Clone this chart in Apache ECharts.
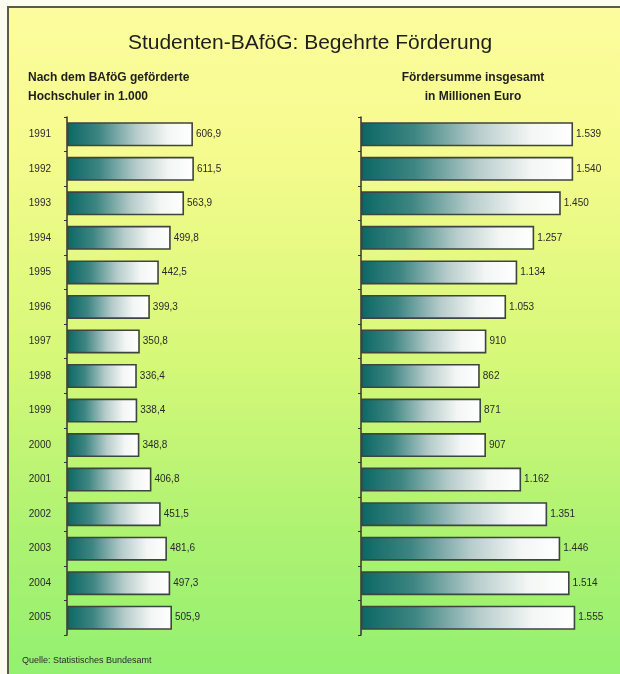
<!DOCTYPE html>
<html><head><meta charset="utf-8">
<script src="https://cdn.jsdelivr.net/npm/echarts@6/dist/echarts.min.js"></script>
<style>html,body{margin:0;padding:0;background:#fbfbf0;}#c{width:620px;height:674px;}</style>
</head><body><div id="c"></div>
<script>
const years = ['1991','1992','1993','1994','1995','1996','1997','1998','1999','2000','2001','2002','2003','2004','2005'];
const students = [606.9, 611.5, 563.9, 499.8, 442.5, 399.3, 350.8, 336.4, 338.4, 348.8, 406.8, 451.5, 481.6, 497.3, 505.9];
const funding = [1539, 1540, 1450, 1257, 1134, 1053, 910, 862, 871, 907, 1162, 1351, 1446, 1514, 1555];

const FONT = '"Liberation Sans", Arial, sans-serif';
const barFill = {
  type: 'linear', x: 0, y: 0, x2: 1, y2: 0,
  colorStops: [
    {offset: 0, color: '#0b6764'},
    {offset: 0.25, color: '#3d8582'},
    {offset: 0.55, color: '#b6cccb'},
    {offset: 0.8, color: '#f3f6f4'},
    {offset: 1, color: '#ffffff'}
  ]
};
function de1(v){ return v.toFixed(1).replace('.', ','); }
function deThousand(v){ return String(v).replace(/\B(?=(\d{3})+(?!\d))/g, '.'); }

const chart = echarts.init(document.getElementById('c'), null, {renderer: 'canvas'});
const catAxis = (gi, showLabel) => ({
  type: 'category', gridIndex: gi, data: years, inverse: true,
  axisLine: {show: true, lineStyle: {color: '#333', width: 1.5}},
  axisTick: {show: true, length: 3, inside: false, lineStyle: {color: '#333'}},
  axisLabel: {show: showLabel, color: '#2a2a2a', fontSize: 10, fontFamily: FONT, margin: 16}
});
const valAxis = (gi, max) => ({
  type: 'value', gridIndex: gi, min: 0, max: max,
  show: false, splitLine: {show: false}
});
const barSeries = (idx, data, fmt) => ({
  type: 'bar', xAxisIndex: idx, yAxisIndex: idx, data: data, barWidth: 24,
  itemStyle: {color: barFill, borderColor: '#3e443e', borderWidth: 1.6},
  label: {show: true, position: 'right', distance: 3, color: '#2a2a2a', fontSize: 10, fontFamily: FONT,
    formatter: p => fmt(p.value)},
  silent: true, animation: false
});

chart.setOption({
  animation: false,
  graphic: [
    {type: 'rect', z: -10, shape: {x: 8, y: 7, width: 640, height: 700},
      style: {fill: {type: 'linear', x: 0, y: 0, x2: 0, y2: 1, colorStops: [
        {offset: 0, color: '#fcfc9e'},
        {offset: 0.2, color: '#f6fb8e'},
        {offset: 0.5, color: '#d6f878'},
        {offset: 0.75, color: '#aef272'},
        {offset: 1, color: '#8df070'}
      ]}, stroke: '#5a5a48', lineWidth: 2}},
    {type: 'text', left: 'center', top: 33, style: {text: 'Studenten-BAföG: Begehrte Förderung', fill: '#1e1e1e', font: '21px ' + FONT}},
    {type: 'text', left: 28, top: 68, style: {text: 'Nach dem BAföG geförderte\nHochschuler in 1.000', fill: '#1e1e1e', font: 'bold 12px ' + FONT, lineHeight: 19}},
    {type: 'text', x: 473, y: 68, style: {text: 'Fördersumme insgesamt\nin Millionen Euro', fill: '#1e1e1e', font: 'bold 12px ' + FONT, lineHeight: 19, align: 'center'}},
    {type: 'text', left: 22, top: 656, style: {text: 'Quelle: Statistisches Bundesamt', fill: '#2a2a2a', font: '9px ' + FONT}}
  ],
  grid: [
    {left: 67, top: 117, width: 165, height: 518, containLabel: false},
    {left: 361, top: 117, width: 248, height: 518, containLabel: false}
  ],
  xAxis: [valAxis(0, 795), valAxis(1, 1800)],
  yAxis: [catAxis(0, true), catAxis(1, false)],
  series: [
    barSeries(0, students, de1),
    barSeries(1, funding, deThousand)
  ]
});
</script></body></html>
